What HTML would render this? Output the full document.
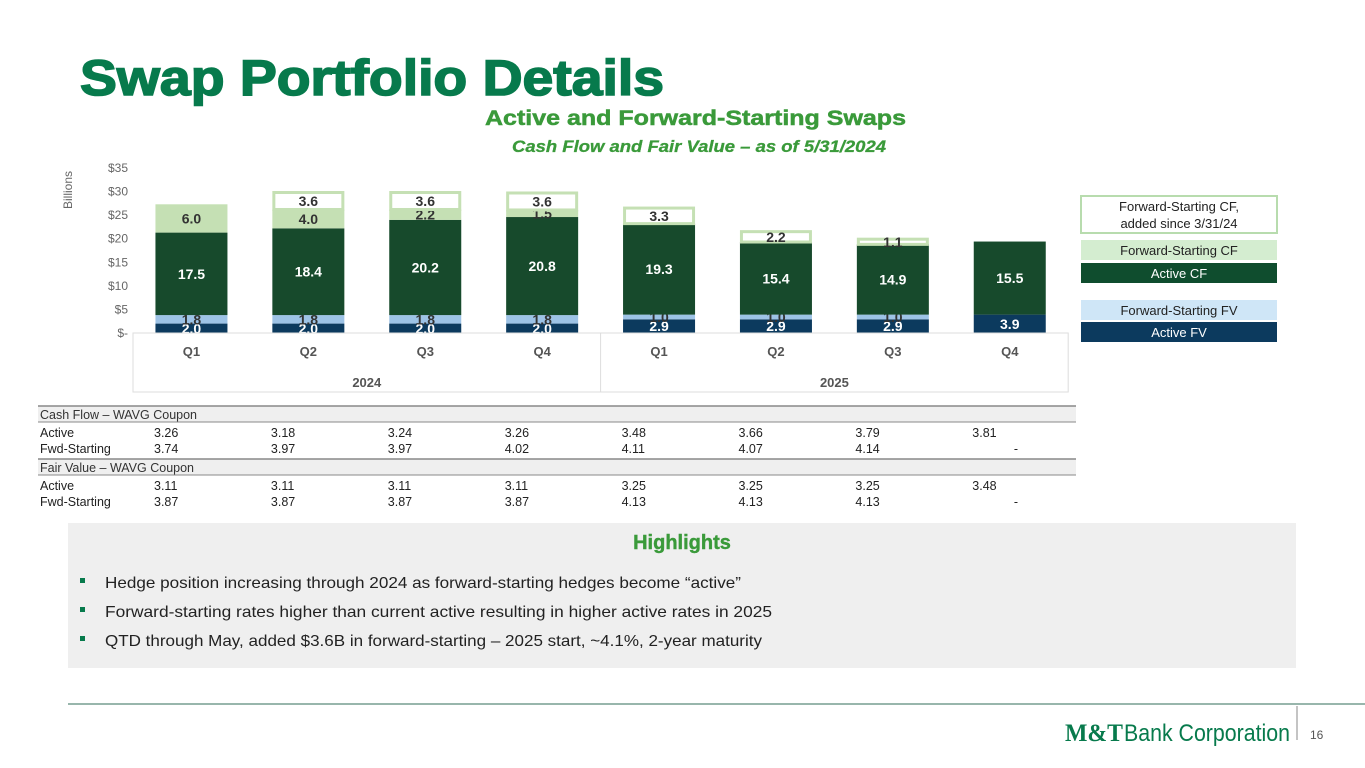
<!DOCTYPE html>
<html><head><meta charset="utf-8"><style>
body{margin:0;width:1365px;height:768px;background:#fff;overflow:hidden;font-family:"Liberation Sans",sans-serif;}
svg{position:absolute;left:0;top:0}
</style></head><body>
<svg width="1365" height="768" id="s" font-family="Liberation Sans, sans-serif">
<text x="80" y="95" font-size="50" font-weight="bold" fill="#077a4c" stroke="#077a4c" stroke-width="1.6" textLength="584" lengthAdjust="spacingAndGlyphs">Swap Portfolio Details</text>
<text x="485" y="125" font-size="21" font-weight="bold" fill="#3a9a3a" stroke="#3a9a3a" stroke-width="0.5" textLength="421" lengthAdjust="spacingAndGlyphs">Active and Forward-Starting Swaps</text>
<text x="512" y="152" font-size="16.5" font-weight="bold" font-style="italic" fill="#3a9a3a" stroke="#3a9a3a" stroke-width="0.3" textLength="374" lengthAdjust="spacingAndGlyphs">Cash Flow and Fair Value – as of 5/31/2024</text>
<text transform="translate(72,190) rotate(-90)" text-anchor="middle" font-size="12" fill="#666">Billions</text>
<g id="chart"></g>
<g>
<rect x="1081" y="196" width="196" height="37" fill="#fff" stroke="#b8dcae" stroke-width="2"/>
<text x="1179" y="211" text-anchor="middle" font-size="13" fill="#222">Forward-Starting CF,</text>
<text x="1179" y="228" text-anchor="middle" font-size="13" fill="#222">added since 3/31/24</text>
<rect x="1081" y="240" width="196" height="20" fill="#d4edd0"/>
<text x="1179" y="255" text-anchor="middle" font-size="13" fill="#222">Forward-Starting CF</text>
<rect x="1081" y="263" width="196" height="20" fill="#0f4d2e"/>
<text x="1179" y="278" text-anchor="middle" font-size="13" fill="#fff">Active CF</text>
<rect x="1081" y="300" width="196" height="20" fill="#cfe6f7"/>
<text x="1179" y="315" text-anchor="middle" font-size="13" fill="#222">Forward-Starting FV</text>
<rect x="1081" y="322" width="196" height="20" fill="#0c3a5e"/>
<text x="1179" y="337" text-anchor="middle" font-size="13" fill="#fff">Active FV</text>
</g>
<g id="table"></g>
<rect x="68" y="523" width="1228" height="145" fill="#efefef"/>
<text x="682" y="549" text-anchor="middle" font-size="20" font-weight="bold" fill="#3a9a3a" stroke="#3a9a3a" stroke-width="0.4">Highlights</text>
<g font-size="16" fill="#222">
<rect x="80" y="578" width="5" height="5" fill="#077a4c"/><text x="105" y="588" textLength="636" lengthAdjust="spacingAndGlyphs">Hedge position increasing through 2024 as forward-starting hedges become “active”</text>
<rect x="80" y="607" width="5" height="5" fill="#077a4c"/><text x="105" y="617" textLength="667" lengthAdjust="spacingAndGlyphs">Forward-starting rates higher than current active resulting in higher active rates in 2025</text>
<rect x="80" y="636" width="5" height="5" fill="#077a4c"/><text x="105" y="646" textLength="657" lengthAdjust="spacingAndGlyphs">QTD through May, added $3.6B in forward-starting – 2025 start, ~4.1%, 2-year maturity</text>
</g>
<line x1="68" y1="704" x2="1365" y2="704" stroke="#5a8a7a" stroke-width="1.2"/>
<text x="1065" y="741" font-size="25" fill="#077a4c" font-family="Liberation Serif, serif" font-weight="bold" textLength="58" lengthAdjust="spacingAndGlyphs">M&amp;T</text>
<text x="1124" y="741" font-size="24" fill="#077a4c" textLength="166" lengthAdjust="spacingAndGlyphs">Bank Corporation</text>
<line x1="1297" y1="706" x2="1297" y2="740" stroke="#888"/>
<text x="1310" y="739" font-size="12" fill="#555">16</text>
</svg>
<script>
const categories=["Q1","Q2","Q3","Q4","Q1","Q2","Q3","Q4"];
const years=["2024","2025"];
const activeFV=[2.0,2.0,2.0,2.0,2.9,2.9,2.9,3.9];
const fwdFV=[1.8,1.8,1.8,1.8,1.0,1.0,1.0,0];
const activeCF=[17.5,18.4,20.2,20.8,19.3,15.4,14.9,15.5];
const fwdCF=[6.0,4.0,2.2,1.5,0,0,0,0];
const addedCF=[0,3.6,3.6,3.6,3.3,2.2,1.1,0];
const yTicks=[0,5,10,15,20,25,30,35];
const yTickLabels=["$-","$5","$10","$15","$20","$25","$30","$35"];
const tblActiveCF=["3.26","3.18","3.24","3.26","3.48","3.66","3.79","3.81"];
const tblFwdCF=["3.74","3.97","3.97","4.02","4.11","4.07","4.14","-"];
const tblActiveFV=["3.11","3.11","3.11","3.11","3.25","3.25","3.25","3.48"];
const tblFwdFV=["3.87","3.87","3.87","3.87","4.13","4.13","4.13","-"];

const NS="http://www.w3.org/2000/svg";
const g=document.getElementById('chart');
const x0=133,cw=116.9,bw=72,y0=333,ppu=165/35;
const y=v=>y0-v*ppu;
const xc=i=>x0+cw*(i+0.5);
function mk(tag,attrs,parent){const e=document.createElementNS(NS,tag);for(const k in attrs)e.setAttribute(k,attrs[k]);(parent||g).appendChild(e);return e;}
yTicks.forEach((t,i)=>{const e=mk('text',{x:128,y:y(t)+4,'text-anchor':'end','font-size':12,fill:'#666'});e.textContent=yTickLabels[i];

});
const series=[
 {d:activeFV,fill:'#0c3a5e',tc:'#fff',name:'active-fv'},
 {d:fwdFV,fill:'#9dc3e6',tc:'#333',name:'fwd-fv'},
 {d:activeCF,fill:'#174a2c',tc:'#fff',name:'active-cf'},
 {d:fwdCF,fill:'#c5e0b4',tc:'#333',name:'fwd-cf'},
 {d:addedCF,fill:'#fff',tc:'#333',name:'added-cf',stroke:'#c5e0b4'}];
categories.forEach((c,i)=>{
 let base=0;
 series.forEach(s=>{
  const v=s.d[i]; if(!v)return;
  const a={x:xc(i)-bw/2,y:y(base+v),width:bw,height:v*ppu,fill:s.fill};
  if(s.stroke){a.stroke=s.stroke;a['stroke-width']=3;a.x+=1.5;a.width-=3;}
  const r=mk('rect',a);
  
  
  const ty=y(base+v/2)+5;
  const t=mk('text',{x:xc(i),y:ty,'text-anchor':'middle','font-size':14,'font-weight':'bold',fill:s.tc});
  t.textContent=v.toFixed(1);
  
  
  base+=v;
 });
});
mk('rect',{x:x0,y:y0,width:cw*8,height:59,fill:'none',stroke:'#ddd'});
mk('line',{x1:x0+cw*4,y1:y0,x2:x0+cw*4,y2:y0+59,stroke:'#ddd'});
categories.forEach((c,i)=>{const t=mk('text',{x:xc(i),y:356,'text-anchor':'middle','font-size':13,'font-weight':'bold',fill:'#555'});t.textContent=c;

});
years.forEach((yr,j)=>{const t=mk('text',{x:x0+cw*(2+4*j),y:387,'text-anchor':'middle','font-size':13,'font-weight':'bold',fill:'#555'});t.textContent=yr;

});

const tb=document.getElementById('table');
function hdr(yt,label){mk('rect',{x:38,y:yt,width:1038,height:16,fill:'#efefef'},tb);
 mk('line',{x1:38,y1:yt,x2:1076,y2:yt,stroke:'#888','stroke-width':1.5},tb);
 mk('line',{x1:38,y1:yt+16,x2:1076,y2:yt+16,stroke:'#888','stroke-width':1},tb);
 const t=mk('text',{x:40,y:yt+13,'font-size':12.5,fill:'#333'},tb);t.textContent=label;}
function row(yb,label,vals){const t=mk('text',{x:40,y:yb,'font-size':12.5,fill:'#222'},tb);t.textContent=label;
 vals.forEach((v,i)=>{const e=mk('text',{x:v==='-'?1016:154+cw*i,y:yb,'font-size':12.5,fill:'#222','text-anchor':v==='-'?'middle':'start'},tb);e.textContent=v;
 
 });}
hdr(406,'Cash  Flow – WAVG Coupon');
row(437,'Active',tblActiveCF);
row(453,'Fwd-Starting',tblFwdCF);
hdr(459,'Fair Value – WAVG Coupon');
row(490,'Active',tblActiveFV);
row(506,'Fwd-Starting',tblFwdFV);
</script>
</body></html>
